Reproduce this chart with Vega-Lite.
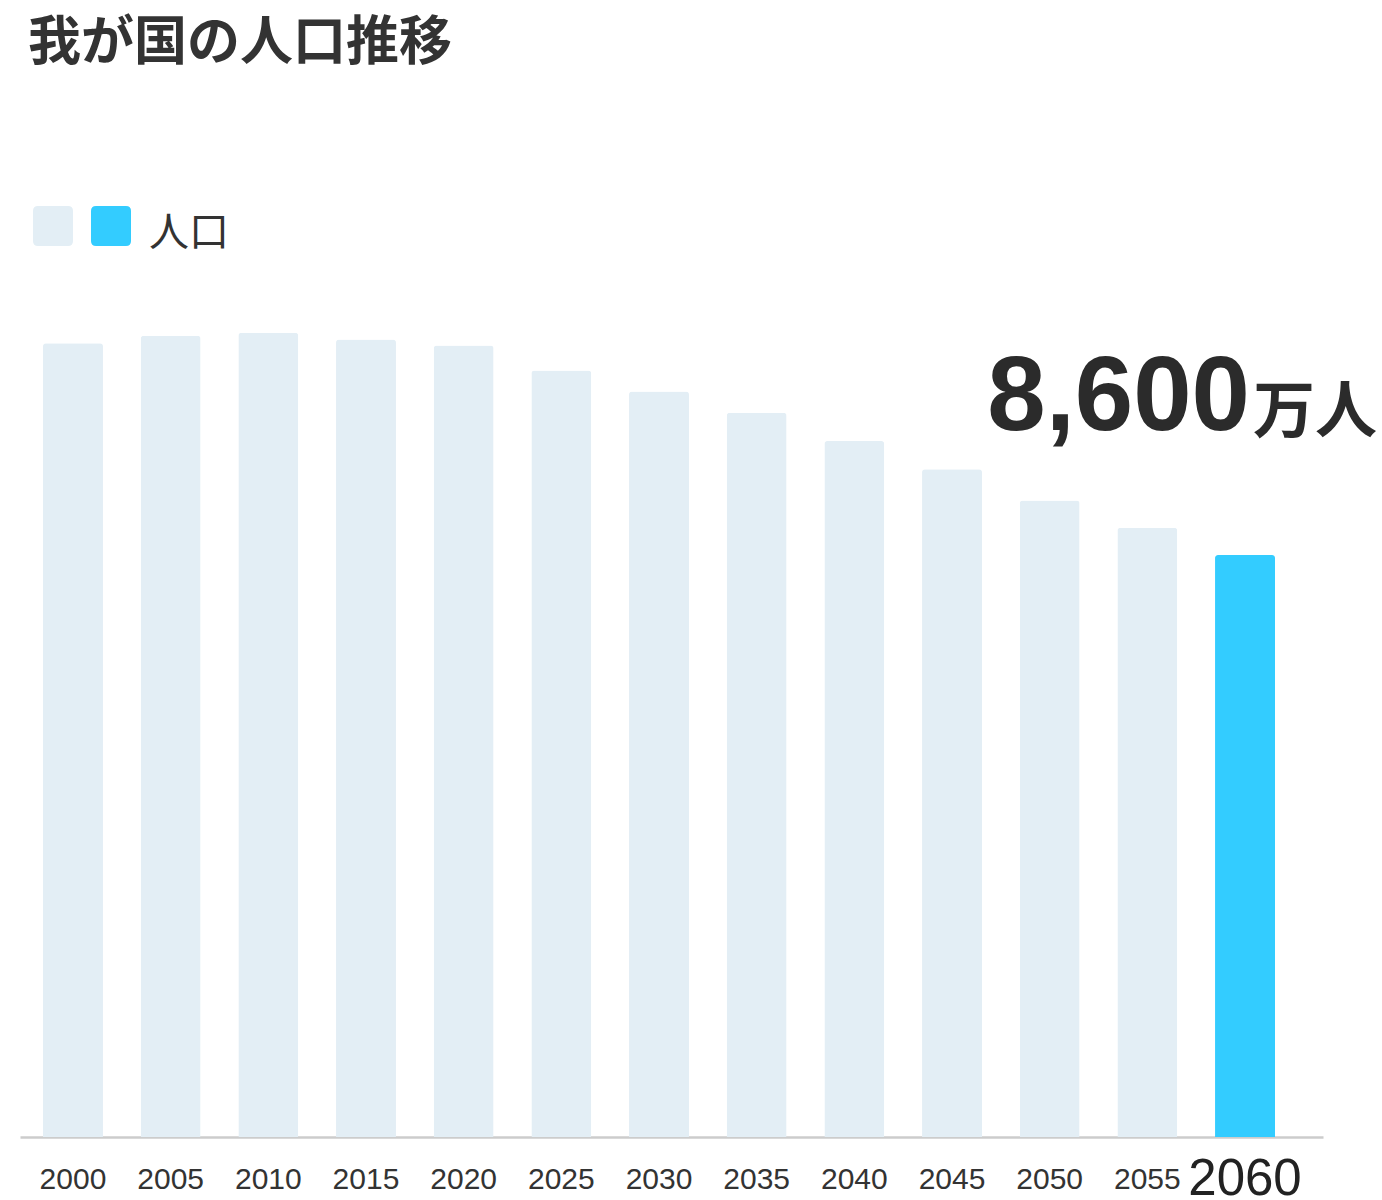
{
  "$schema": "https://vega.github.io/schema/vega-lite/v6.json",
  "width": 1303,
  "height": 812,
  "autosize": {"type": "none"},
  "padding": {"left": 20, "top": 325, "right": 59, "bottom": 63},
  "background": "#ffffff",
  "title": {
    "text": "我が国の人口推移",
    "anchor": "start",
    "frame": "group",
    "offset": 135,
    "dx": 8,
    "font": "Noto Sans CJK JP",
    "fontSize": 53,
    "fontWeight": "bold",
    "color": "#333333"
  },
  "data": {
    "values": [
      {"year": "2000", "population": 11731, "kind": "その他"},
      {"year": "2005", "population": 11840, "kind": "その他"},
      {"year": "2010", "population": 11885, "kind": "その他"},
      {"year": "2015", "population": 11786, "kind": "その他"},
      {"year": "2020", "population": 11697, "kind": "その他"},
      {"year": "2025", "population": 11328, "kind": "その他"},
      {"year": "2030", "population": 11018, "kind": "その他"},
      {"year": "2035", "population": 10703, "kind": "その他"},
      {"year": "2040", "population": 10284, "kind": "その他"},
      {"year": "2045", "population": 9870, "kind": "その他"},
      {"year": "2050", "population": 9408, "kind": "その他"},
      {"year": "2055", "population": 9005, "kind": "その他"},
      {"year": "2060", "population": 8600, "kind": "人口"}
    ]
  },
  "encoding": {
    "x": {
      "field": "year",
      "type": "ordinal",
      "scale": {"paddingInner": 0.386, "paddingOuter": 0.3635, "align": 0.324},
      "axis": {
        "title": null,
        "ticks": false,
        "tickSize": 0,
        "grid": false,
        "domain": true,
        "domainColor": "#cccccc",
        "domainWidth": 2.5,
        "labelAngle": 0,
        "labelBaseline": "middle",
        "labelPadding": 42,
        "labelFont": "Liberation Sans",
        "labelFontSize": {"condition": {"test": "datum.label == '2060'", "value": 51}, "value": 30},
        "labelColor": {"condition": {"test": "datum.label == '2060'", "value": "#222222"}, "value": "#333333"},
        "labelOverlap": false,
        "labelFlush": false
      }
    },
    "y": {
      "field": "population",
      "type": "quantitative",
      "scale": {"domain": [0, 12000], "nice": false, "zero": true},
      "axis": null
    }
  },
  "layer": [
    {
      "mark": {"type": "bar", "cornerRadiusTopLeft": 3, "cornerRadiusTopRight": 3},
      "encoding": {
        "color": {
          "field": "kind",
          "type": "nominal",
          "scale": {"domain": ["その他", "人口"], "range": ["#e3eef5", "#33ccff"]},
          "legend": {
            "orient": "none",
            "legendX": 13,
            "legendY": -119,
            "direction": "horizontal",
            "title": null,
            "padding": 0,
            "symbolType": "M -0.75 -1 L 0.75 -1 Q 1 -1 1 -0.75 L 1 0.75 Q 1 1 0.75 1 L -0.75 1 Q -1 1 -1 0.75 L -1 -0.75 Q -1 -1 -0.75 -1 Z",
            "symbolSize": 1600,
            "symbolStrokeWidth": 0,
            "symbolOpacity": 1,
            "labelExpr": "datum.value == '人口' ? '人口' : ''",
            "labelFont": "Noto Sans CJK JP",
            "labelFontSize": 40,
            "labelColor": "#333333",
            "labelOffset": 18,
            "columnPadding": -4,
            "encode": {"labels": {"update": {"dy": {"value": 8}}}}
          }
        }
      }
    },
    {
      "transform": [{"filter": "datum.year == '2060'"}],
      "mark": {
        "type": "text",
        "align": "right",
        "baseline": "alphabetic",
        "dx": 5,
        "dy": -125,
        "font": "Liberation Sans",
        "fontSize": 105,
        "fontWeight": "bold",
        "color": "#2b2b2b"
      },
      "encoding": {
        "text": {"field": "population", "type": "quantitative", "format": ","}
      }
    },
    {
      "transform": [{"filter": "datum.year == '2060'"}],
      "mark": {
        "type": "text",
        "align": "left",
        "baseline": "alphabetic",
        "dx": 8,
        "dy": -122,
        "font": "Noto Sans CJK JP",
        "fontSize": 62,
        "fontWeight": "bold",
        "color": "#2b2b2b",
        "text": "万人"
      },
      "encoding": {}
    }
  ],
  "config": {"view": {"stroke": null}}
}
